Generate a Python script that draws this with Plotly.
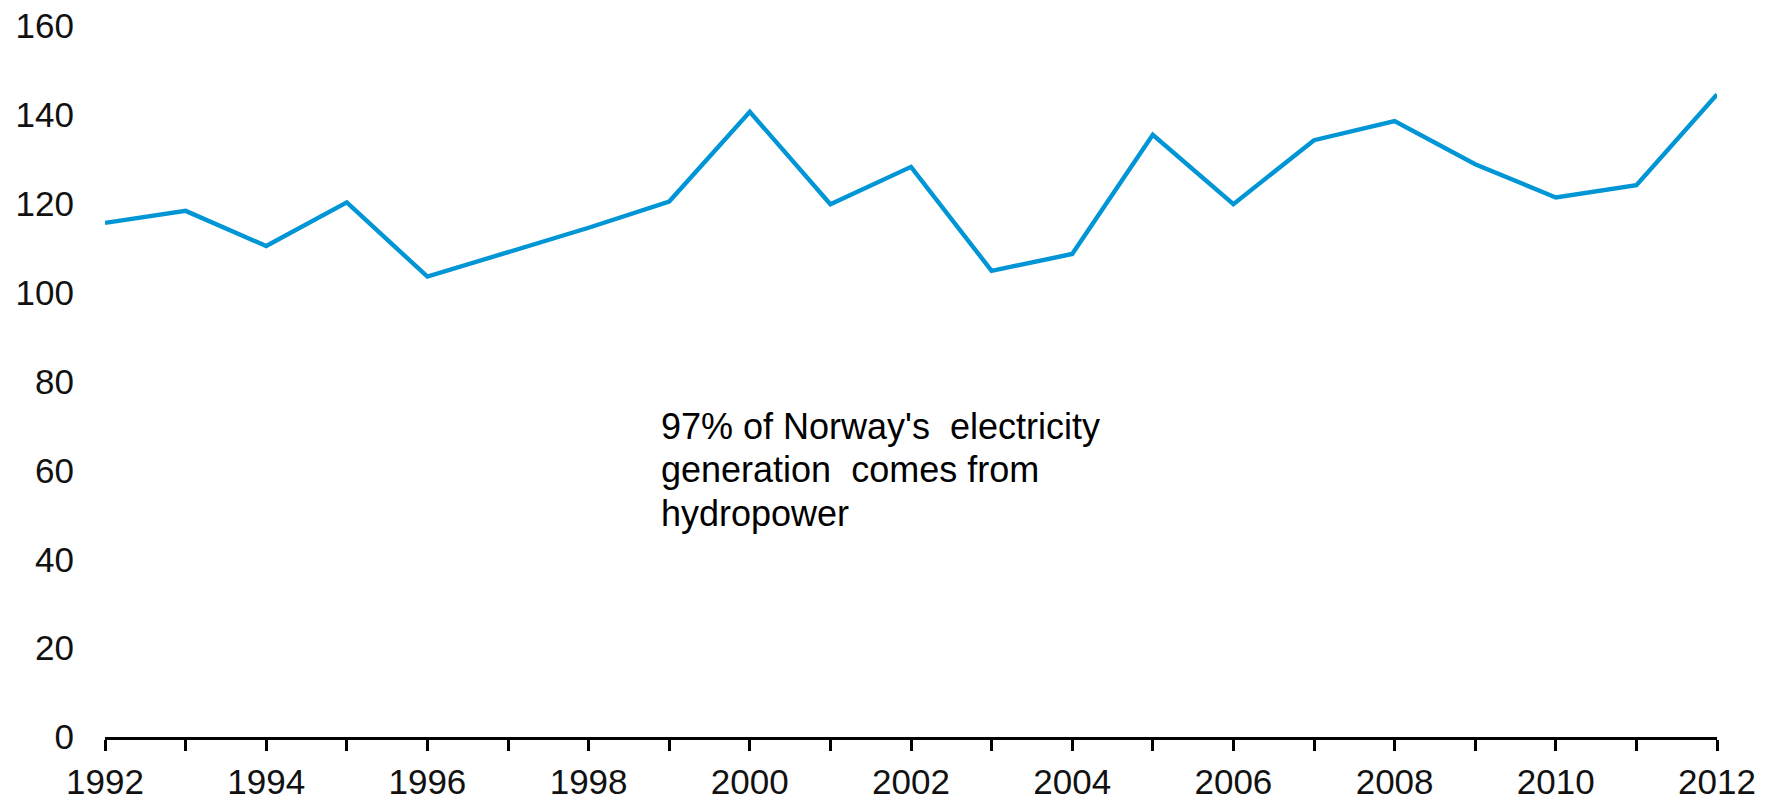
import plotly.graph_objects as go

years = list(range(1992, 2013))
generation = [115.7, 118.4, 110.5, 120.3, 103.6, 109.0, 114.6, 120.5, 140.7, 119.9,
              128.3, 104.9, 108.7, 135.5, 119.9, 134.3, 138.6, 128.9, 121.4, 124.2, 144.6]

y_ticks = [0, 20, 40, 60, 80, 100, 120, 140, 160]
x_tick_vals = years
x_tick_text = [str(y) if y % 2 == 0 else "" for y in years]

note_lines = ["97% of Norway's \u00a0electricity", "generation \u00a0comes from", "hydropower"]
note_x = 1998.87
note_y = [69.9, 60.3, 50.3]

fig = go.Figure()
fig.add_trace(go.Scatter(
    x=years, y=generation, mode="lines",
    line=dict(color="#0096D6", width=4.4),
    hoverinfo="x+y", showlegend=False, cliponaxis=False,
))

for txt, yy in zip(note_lines, note_y):
    fig.add_annotation(x=note_x, y=yy, text=txt, showarrow=False,
                       xanchor="left", yanchor="middle", xref="x", yref="y",
                       font=dict(family="Liberation Sans, Arial, sans-serif", size=36, color="#000"))

fig.update_layout(
    width=1777, height=802,
    margin=dict(l=105, r=60, t=26, b=65, autoexpand=False),
    paper_bgcolor="white", plot_bgcolor="white",
    font=dict(family="Liberation Sans, Arial, sans-serif", size=35, color="#111"),
    showlegend=False,
)
fig.update_xaxes(
    range=[1992, 2012], tickmode="array", tickvals=x_tick_vals, ticktext=x_tick_text,
    showgrid=False, zeroline=False, showline=True, linecolor="#000", linewidth=3,
    ticks="outside", ticklen=11, tickwidth=3, tickcolor="#000",
    ticklabelstandoff=1, automargin=False, ticklabeloverflow="allow",
)
fig.update_yaxes(
    range=[0, 160], tickmode="array", tickvals=y_ticks,
    showgrid=False, zeroline=False, showline=False, ticks="",
    ticklabelstandoff=30, automargin=False, ticklabeloverflow="allow",
)

# remove the page's default 8px body margin so the figure fills the window exactly
fig.write_html("out.html",
               config={"displayModeBar": False},
               post_script="document.body.style.margin='0';document.body.style.overflow='hidden';")
